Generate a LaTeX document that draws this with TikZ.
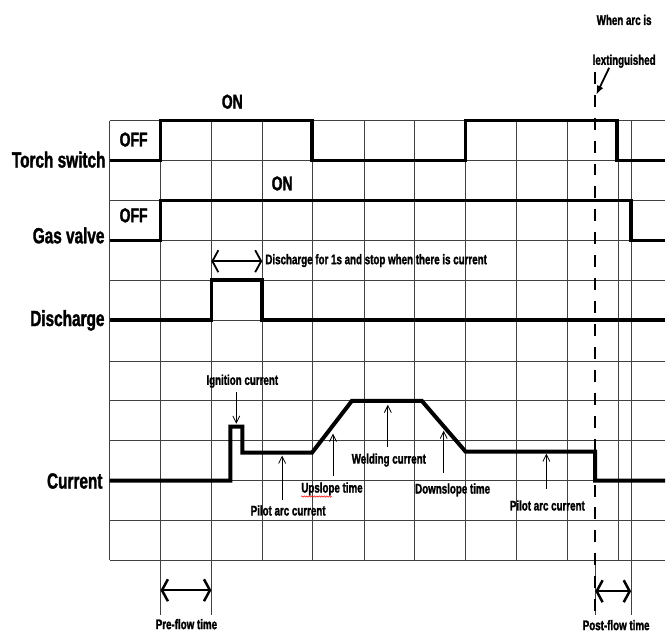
\documentclass[tikz,border=0pt]{standalone}
\usepackage{fontspec}
\newfontfamily\chartfont{Liberation Sans}[FakeStretch=0.7, BoldFeatures={FakeBold=1.5}]
\usetikzlibrary{arrows.meta,decorations.pathmorphing}

\begin{document}
\begin{tikzpicture}[x=1pt, y=-1pt,
    every node/.style={inner sep=0pt, font=\chartfont\bfseries},
    gridline/.style={black!75, line width=0.7pt},
    signal/.style={line width=3.5pt},
    rowlabel/.style={anchor=base east, font=\chartfont\bfseries\fontsize{22}{24}\selectfont},
    state/.style={font=\chartfont\bfseries\fontsize{20}{22}\selectfont},
    note/.style={anchor=base, font=\chartfont\bfseries\fontsize{14}{16}\selectfont},
    pointer/.style={line width=0.8pt, -{Straight Barb[length=7pt,width=7pt]}},
    span/.style={line width=2.5pt, {Straight Barb[length=6pt,width=22pt]}-{Straight Barb[length=6pt,width=22pt]}}]
    \path[fill=white] (0,0) rectangle (667,637);
    % grid
    \foreach \y in {121,161,201,241,281,321,362,402,442,482,522,562}
        \draw[gridline] (110,\y) -- (667,\y);
    \foreach \x in {110,161,212,263,313,365,416,467,518,569,620,633}
        \draw[gridline] (\x,121) -- (\x,562);
    \foreach \x in {161,212,597,633}
        \draw[gridline] (\x,562) -- (\x,617);
    % signals
    \draw[signal] (110,161) -- (161,161) -- (161,121) -- (313,121) -- (313,161) -- (467,161)
        -- (467,121) -- (619,121) -- (619,161) -- (667,161);
    \draw[signal] (110,241) -- (161,241) -- (161,201) -- (633,201) -- (633,241) -- (667,241);
    \draw[signal] (110,321) -- (212,321) -- (212,281) -- (263,281) -- (263,321) -- (667,321);
    \draw[signal, line width=4pt] (110,482) -- (231,482) -- (231,428) -- (243,428) -- (243,454)
        -- (313,454) -- (353,402) -- (423,402) -- (467,453) -- (597,453) -- (597,482) -- (667,482);
    % row labels and states
    \node[rowlabel] (torch) at (106,168) {Torch switch};
    \node[rowlabel] (gas) at (105,244) {Gas valve};
    \node[rowlabel] (discharge) at (105,327) {Discharge};
    \node[rowlabel] (current) at (103,490) {Current};
    \node[state] (torchoff) at (134,140) {OFF};
    \node[state] (torchon) at (233,102) {ON};
    \node[state] (gasoff) at (134,216) {OFF};
    \node[state] (gason) at (283,184) {ON};
    % notes
    \node[note, anchor=base west] (dischargenote) at (266,265) {Discharge for 1s and stop when there is current};
    \node[note] (ignition) at (243,386) {Ignition current};
    \node[note] (pilotleft) at (289,517) {Pilot arc current};
    \node[note] (upslope) at (333,494) {Upslope time};
    \node[note] (welding) at (390,465) {Welding current};
    \node[note] (downslope) at (454,495) {Downslope time};
    \node[note] (pilotright) at (549,512) {Pilot arc current};
    \node[note] (arcnote) at (626,25) {When arc is};
    \node[note] (arcnote2) at (626,65) {lextinguished};
    \node[note] (preflow) at (187,631) {Pre-flow time};
    \node[note] (postflow) at (618,632) {Post-flow time};
    % pointers
    \coordinate (ignitionA) at (237,393);  \coordinate (ignitionB) at (237,425);
    \coordinate (pilotleftA) at (283,501); \coordinate (pilotleftB) at (283,457);
    \coordinate (upslopeA) at (334,477);   \coordinate (upslopeB) at (334,435);
    \coordinate (weldingA) at (389,448);   \coordinate (weldingB) at (389,406);
    \coordinate (downslopeA) at (445,474); \coordinate (downslopeB) at (445,432);
    \coordinate (pilotrightA) at (548,490); \coordinate (pilotrightB) at (548,455);
    \foreach \p in {ignition,pilotleft,upslope,welding,downslope,pilotright}
        \draw[pointer] (\p A) -- (\p B);
    % spans
    \coordinate (dischargeA) at (212,262); \coordinate (dischargeB) at (263,262);
    \coordinate (preflowA) at (161,592);   \coordinate (preflowB) at (212,592);
    \coordinate (postflowA) at (597,593);  \coordinate (postflowB) at (633,593);
    \draw[span, line width=1.8pt] (dischargeA) -- (dischargeB);
    \draw[span] (preflowA) -- (preflowB);
    \draw[span] (postflowA) -- (postflowB);
    % arc extinguished
    \coordinate (arcA) at (611,68); \coordinate (arcB) at (598,95);
    \coordinate (arctop) at (597,72); \coordinate (arcbottom) at (597,617);
    \draw[line width=1.8pt, -{Latex[length=9pt,width=7pt]}] (arcA) -- (arcB);
    \draw[line width=1.8pt, dash pattern=on 12pt off 11pt] (arctop) -- (arcbottom);
    \draw[red, line width=0.5pt, decorate, decoration={snake, amplitude=0.7pt, segment length=2.5pt}]
        (302,498) -- (333,498);
\end{tikzpicture}
\end{document}
